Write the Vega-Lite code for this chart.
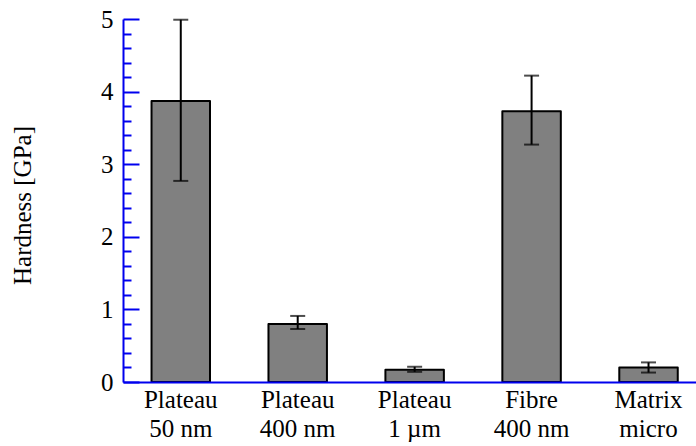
{
  "$schema": "https://vega.github.io/schema/vega-lite/v6.json",
  "autosize": {"type": "none"},
  "padding": {"left": 123, "top": 19, "right": 0, "bottom": 64},
  "width": 573,
  "height": 363,
  "background": "white",
  "config": {"view": {"stroke": null}},
  "data": {
    "values": [
      {"sample": "Plateau|50 nm", "hardness": 3.87, "lo": 2.77, "hi": 4.99},
      {"sample": "Plateau|400 nm", "hardness": 0.80, "lo": 0.73, "hi": 0.91},
      {"sample": "Plateau|1 µm", "hardness": 0.17, "lo": 0.14, "hi": 0.21},
      {"sample": "Fibre|400 nm", "hardness": 3.73, "lo": 3.27, "hi": 4.22},
      {"sample": "Matrix|micro", "hardness": 0.20, "lo": 0.13, "hi": 0.27}
    ]
  },
  "resolve": {"axis": {"y": "independent"}},
  "encoding": {
    "x": {
      "field": "sample",
      "type": "nominal",
      "sort": null,
      "scale": {"paddingInner": 0.5, "paddingOuter": 0.2, "align": 0.61},
      "axis": {
        "title": null,
        "labelExpr": "split(datum.value, '|')",
        "labelAngle": 0,
        "labelFont": "Liberation Serif",
        "labelFontSize": 25,
        "labelLineHeight": 29,
        "labelColor": "black",
        "labelPadding": 5,
        "ticks": false,
        "domainColor": "#0000ee",
        "domainWidth": 2,
        "zindex": 2
      }
    }
  },
  "layer": [
    {
      "mark": {"type": "bar", "fill": "#808080", "stroke": "black", "strokeWidth": 2, "strokeJoin": "round"},
      "encoding": {
        "y": {
          "field": "hardness",
          "type": "quantitative",
          "scale": {"domain": [0, 5], "nice": false, "zero": true},
          "axis": {
            "orient": "left",
            "title": "Hardness [GPa]",
            "titleFont": "Liberation Serif",
            "titleFontSize": 25,
            "titleFontWeight": "normal",
            "titleColor": "black",
            "titleX": -93,
            "titleY": 186,
            "titleBaseline": "alphabetic",
            "values": [0, 1, 2, 3, 4, 5],
            "format": "d",
            "labelFont": "Liberation Serif",
            "labelFontSize": 25,
            "labelColor": "black",
            "labelPadding": 26,
            "labelFlush": false,
            "labelOverlap": false,
            "tickSize": -16,
            "tickColor": "#0000ee",
            "tickWidth": 2,
            "domainColor": "#0000ee",
            "domainWidth": 2,
            "grid": false,
            "zindex": 2
          }
        }
      }
    },
    {
      "mark": {"type": "rule", "color": "black", "strokeWidth": 2},
      "encoding": {
        "y": {
          "field": "lo",
          "type": "quantitative",
          "axis": {
            "orient": "left",
            "title": null,
            "values": [0.2, 0.4, 0.6, 0.8, 1.2, 1.4, 1.6, 1.8, 2.2, 2.4, 2.6, 2.8, 3.2, 3.4, 3.6, 3.8, 4.2, 4.4, 4.6, 4.8],
            "labels": false,
            "domain": false,
            "tickSize": -8,
            "tickColor": "#0000ee",
            "tickWidth": 2,
            "grid": false,
            "zindex": 2
          }
        },
        "y2": {"field": "hi"}
      }
    },
    {
      "mark": {"type": "tick", "color": "black", "thickness": 2, "size": 15},
      "encoding": {"y": {"field": "lo", "type": "quantitative", "axis": null}}
    },
    {
      "mark": {"type": "tick", "color": "black", "thickness": 2, "size": 15},
      "encoding": {"y": {"field": "hi", "type": "quantitative", "axis": null}}
    }
  ]
}
